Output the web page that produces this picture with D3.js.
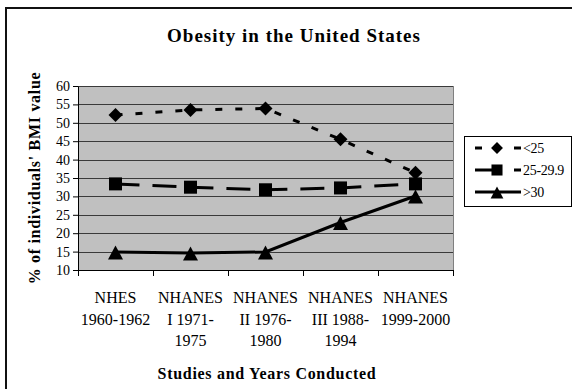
<!DOCTYPE html>
<html>
<head>
<meta charset="utf-8">
<script src="https://cdn.jsdelivr.net/npm/d3@7"></script>
<style>
  html, body { margin: 0; padding: 0; background: #fff; }
  svg { display: block; }
</style>
</head>
<body>
<svg id="chart" width="572" height="389"></svg>
<script>
// Survey labels (each split over lines as printed under the axis)
const categories = [
  ["NHES", "1960-1962"],
  ["NHANES", "I 1971-", "1975"],
  ["NHANES", "II 1976-", "1980"],
  ["NHANES", "III 1988-", "1994"],
  ["NHANES", "1999-2000"]
];
const seriesNames = ["<25", "25-29.9", ">30"];
const under25 = [52.1, 53.5, 53.9, 45.5, 36.4];
const from25to30 = [33.4, 32.5, 31.8, 32.3, 33.4];
const over30 = [14.9, 14.6, 14.9, 22.9, 30.1];
const yTicks = [10, 15, 20, 25, 30, 35, 40, 45, 50, 55, 60];

const FONT = "'Liberation Serif', 'Times New Roman', Times, serif";

const svg = d3.select("#chart");

// Outer frame
svg.append("rect")
  .attr("x", 6).attr("y", 8)
  .attr("width", 600).attr("height", 420)
  .attr("fill", "none").attr("stroke", "#111").attr("stroke-width", 2);

const plot = { left: 78, right: 453, top: 86, bottom: 270 };

const x = d3.scaleBand()
  .domain(d3.range(categories.length))
  .range([plot.left, plot.right]);
const y = d3.scaleLinear().domain([10, 60]).range([plot.bottom, plot.top]);

// Plot background
svg.append("rect")
  .attr("x", plot.left).attr("y", plot.top)
  .attr("width", plot.right - plot.left).attr("height", plot.bottom - plot.top)
  .attr("fill", "#c0c0c0");

// Gridlines
svg.append("g").selectAll("line")
  .data(yTicks.filter(v => v > 10))
  .join("line")
  .attr("x1", plot.left).attr("x2", plot.right)
  .attr("y1", d => Math.round(y(d)) + 0.5).attr("y2", d => Math.round(y(d)) + 0.5)
  .attr("stroke", "#3a3a3a").attr("stroke-width", 1);

// Right edge of plot area
svg.append("line")
  .attr("x1", plot.right + 0.5).attr("x2", plot.right + 0.5)
  .attr("y1", plot.top).attr("y2", plot.bottom)
  .attr("stroke", "#808080").attr("stroke-width", 1);

// Y axis
const yAxis = svg.append("g")
  .attr("transform", `translate(${plot.left},0)`)
  .call(d3.axisLeft(y).tickValues(yTicks).tickSize(5).tickPadding(3).tickSizeOuter(0));
yAxis.attr("font-family", null).attr("font-size", null);
yAxis.selectAll("text").style("font-size", "14px").style("font-family", FONT).attr("fill", "#000");
yAxis.selectAll("line, path").attr("stroke", "#000");

// X axis: ticks at category boundaries
const xb = svg.append("g");
xb.append("line")
  .attr("x1", plot.left).attr("x2", plot.right)
  .attr("y1", plot.bottom + 0.5).attr("y2", plot.bottom + 0.5)
  .attr("stroke", "#000");
const bounds = d3.range(categories.length + 1).map(i =>
  i < categories.length ? x(i) : x(categories.length - 1) + x.bandwidth());
xb.selectAll("line.tk").data(bounds).join("line")
  .attr("class", "tk")
  .attr("x1", d => Math.round(d) + 0.5).attr("x2", d => Math.round(d) + 0.5)
  .attr("y1", plot.bottom).attr("y2", plot.bottom + 6)
  .attr("stroke", "#000");

// Category labels
const lab = svg.append("g");
categories.forEach((lines, i) => {
  const t = lab.append("text")
    .attr("x", x(i) + x.bandwidth() / 2)
    .attr("y", 303)
    .attr("text-anchor", "middle")
    .style("font-family", FONT)
    .style("font-size", "16px");
  lines.forEach((s, j) => {
    t.append("tspan").attr("x", x(i) + x.bandwidth() / 2).attr("dy", j === 0 ? 0 : 21.5).text(s);
  });
});

// Titles
svg.append("text").attr("x", 294).attr("y", 42).attr("text-anchor", "middle")
  .style("font-family", FONT)
  .style("font-size", "19px").style("font-weight", "bold")
  .style("letter-spacing", "1px")
  .text("Obesity in the United States");
svg.append("text").attr("x", 267).attr("y", 379).attr("text-anchor", "middle")
  .style("font-family", FONT)
  .style("font-size", "16px").style("font-weight", "bold")
  .style("letter-spacing", "0.7px")
  .text("Studies and Years Conducted");
svg.append("text")
  .attr("transform", "translate(40,178) rotate(-90)")
  .attr("text-anchor", "middle")
  .style("font-family", FONT)
  .style("font-size", "16px").style("font-weight", "bold")
  .style("letter-spacing", "0.7px")
  .text("% of individuals' BMI value");

// Series
const cx = i => x(i) + x.bandwidth() / 2;
const series = [
  { name: seriesNames[0], values: under25, dash: "7,13", legendDash: "7,32", marker: "diamond" },
  { name: seriesNames[1], values: from25to30, dash: "24,13", legendDash: "27,12,7", marker: "square" },
  { name: seriesNames[2], values: over30, dash: null, legendDash: null, marker: "triangle" }
];
const markerPath = {
  diamond: "M0,-7L7,0L0,7L-7,0Z",
  square: "M-6.5,-6.5H6.5V6.5H-6.5Z",
  triangle: "M0,-6.5L7.5,7.5L-7.5,7.5Z"
};
const line = d3.line().x((d, i) => cx(i)).y(d => y(d));

series.forEach(s => {
  svg.append("path")
    .datum(s.values)
    .attr("d", line)
    .attr("fill", "none")
    .attr("stroke", "#000")
    .attr("stroke-width", 3)
    .attr("stroke-dasharray", s.dash);
  svg.append("g").selectAll("path")
    .data(s.values)
    .join("path")
    .attr("transform", (d, i) => `translate(${cx(i)},${y(d)})`)
    .attr("d", markerPath[s.marker])
    .attr("fill", "#000");
});

// Legend
const lg = svg.append("g");
lg.append("rect")
  .attr("x", 464.5).attr("y", 136.5).attr("width", 107).attr("height", 70)
  .attr("fill", "#fff").attr("stroke", "#000").attr("stroke-width", 1);
series.forEach((s, i) => {
  const ly = 148 + i * 22;
  lg.append("line")
    .attr("x1", 475).attr("x2", 521).attr("y1", ly).attr("y2", ly)
    .attr("stroke", "#000").attr("stroke-width", 3)
    .attr("stroke-dasharray", s.legendDash);
  lg.append("path")
    .attr("transform", `translate(497,${ly}) scale(0.85)`)
    .attr("d", markerPath[s.marker]).attr("fill", "#000");
  lg.append("text")
    .attr("x", 523).attr("y", ly + 5)
    .style("font-family", FONT)
    .style("font-size", "14px")
    .style("letter-spacing", "-0.3px")
    .text(s.name);
});
</script>
</body>
</html>
